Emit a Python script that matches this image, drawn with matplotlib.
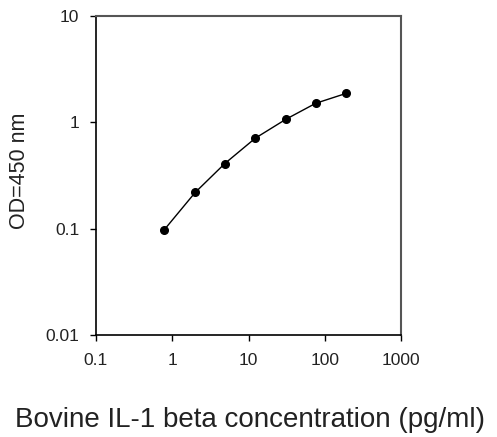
import matplotlib.pyplot as plt
from matplotlib.ticker import FixedLocator, FixedFormatter, NullLocator

plt.rcParams['font.family'] = ['Liberation Sans', 'DejaVu Sans']

# Standard curve values
concentration = [0.79, 2.0, 4.9, 12.3, 31.0, 76.0, 190.0]
od_450 = [0.098, 0.219, 0.41, 0.71, 1.07, 1.51, 1.87]

x_ticks = [0.1, 1, 10, 100, 1000]
x_tick_labels = ["0.1", "1", "10", "100", "1000"]
y_ticks = [0.01, 0.1, 1, 10]
y_tick_labels = ["0.01", "0.1", "1", "10"]


def main():
    fig = plt.figure(figsize=(4.97, 4.37), dpi=100)
    ax = fig.add_axes([0.193, 0.2334, 0.614, 0.730])

    ax.plot(concentration, od_450, '-', color="black", linewidth=1.0,
            marker='o', markersize=5.5, markerfacecolor="black",
            markeredgecolor="black")

    ax.set_xscale('log')
    ax.set_yscale('log')
    ax.set_xlim(0.1, 1000)
    ax.set_ylim(0.01, 10)

    ax.xaxis.set_major_locator(FixedLocator(x_ticks))
    ax.xaxis.set_major_formatter(FixedFormatter(x_tick_labels))
    ax.xaxis.set_minor_locator(NullLocator())
    ax.yaxis.set_major_locator(FixedLocator(y_ticks))
    ax.yaxis.set_major_formatter(FixedFormatter(y_tick_labels))
    ax.yaxis.set_minor_locator(NullLocator())

    ax.tick_params(axis='both', direction='out', length=4, width=1.0,
                   labelsize=12.5, colors="black", labelcolor="#222222", pad=8)
    ax.tick_params(axis='x', pad=9)

    for side in ('left', 'bottom'):
        ax.spines[side].set_color("black")
        ax.spines[side].set_linewidth(1.2)
    for side in ('top', 'right'):
        ax.spines[side].set_color("#555555")
        ax.spines[side].set_linewidth(1.5)

    fig.text(0.503, 0.022, "Bovine IL-1 beta concentration (pg/ml)",
             ha="center", va="baseline", fontsize=20, color="#222222")
    fig.text(0.040, 0.609, "OD=450 nm", ha="center", va="center",
             rotation=90, fontsize=15.5, color="#222222")

    fig.savefig("out.png", dpi=100)


if __name__ == "__main__":
    main()
